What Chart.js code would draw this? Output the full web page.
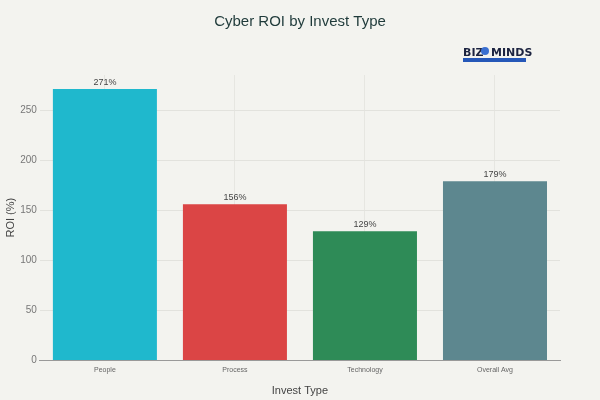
<!DOCTYPE html>
<html>
<head>
<meta charset="utf-8">
<script src="https://cdn.jsdelivr.net/npm/chart.js"></script>
<style>
  html, body { margin: 0; padding: 0; background: #f3f3ef; }
  #wrap { width: 600px; height: 400px; }
</style>
</head>
<body>
<div id="wrap"><canvas id="myChart" width="600" height="400"></canvas></div>
<script>
// chart data
const investTypes = ["People", "Process", "Technology", "Overall Avg"];
const roiValues = [271, 156, 129, 179];
const barColors = ["#1fb8cd", "#db4545", "#2e8b57", "#5d878f"];
const yTicks = [0, 50, 100, 150, 200, 250];

// title centred on the page, value labels, and the logo
const extrasPlugin = {
  id: "extras",
  afterDatasetsDraw(chart) {
    const ctx = chart.ctx;
    const meta = chart.getDatasetMeta(0);
    ctx.save();
    ctx.font = "500 15px 'Liberation Sans', Arial, sans-serif";
    ctx.fillStyle = "#1f3a3a";
    ctx.textAlign = "center";
    ctx.textBaseline = "middle";
    ctx.fillText("Cyber ROI by Invest Type", 300, 22);

    ctx.font = "9px 'Liberation Sans', Arial, sans-serif";
    ctx.fillStyle = "#444";
    ctx.textBaseline = "bottom";
    meta.data.forEach((bar, i) => {
      ctx.fillText(roiValues[i] + "%", bar.x, bar.y - 2);
    });

    // logo
    ctx.font = "bold 11px 'DejaVu Sans', sans-serif";
    ctx.fillStyle = "#1c2340";
    ctx.textBaseline = "alphabetic";
    ctx.textAlign = "left";
    ctx.fillText("BIZ", 463, 56);
    ctx.fillText("MINDS", 491, 56);
    ctx.fillStyle = "#3a6fd0";
    ctx.beginPath();
    ctx.arc(485, 51, 4, 0, Math.PI * 2);
    ctx.fill();
    ctx.fillStyle = "#2557b8";
    ctx.fillRect(463, 58, 63, 4);
    ctx.restore();
  }
};

const ctx = document.getElementById("myChart").getContext("2d");
const myChart = new Chart(ctx, {
  type: "bar",
  data: {
    labels: investTypes,
    datasets: [
      {
        label: "ROI (%)",
        data: roiValues,
        backgroundColor: barColors,
        borderWidth: 0,
        barPercentage: 0.8,
        categoryPercentage: 1.0,
      },
    ],
  },
  plugins: [extrasPlugin],
  options: {
    responsive: false,
    animation: false,
    layout: { padding: { left: 4, right: 40, top: 75, bottom: 2 } },
    plugins: {
      legend: { display: false },
      tooltip: { enabled: false },
    },
    scales: {
      x: {
        grid: { display: true, offset: false, color: "#e6e6e1", drawTicks: false },
        border: { color: "#999", width: 1 },
        ticks: { color: "#666", font: { size: 7, family: "'Liberation Sans', Arial, sans-serif" }, padding: 5 },
        title: {
          display: true,
          text: "Invest Type",
          color: "#444",
          font: { size: 11, family: "'Liberation Sans', Arial, sans-serif" },
          padding: { top: 6, bottom: 0 },
        },
      },
      y: {
        min: 0,
        max: 285,
        afterBuildTicks: (axis) => {
          axis.ticks = yTicks.map((v) => ({ value: v }));
        },
        grid: { color: "#e2e2dd", drawTicks: false },
        border: { display: false },
        ticks: { color: "#777", font: { size: 10, family: "'Liberation Sans', Arial, sans-serif" }, padding: 3 },
        title: {
          display: true,
          text: "ROI (%)",
          color: "#444",
          font: { size: 11, family: "'Liberation Sans', Arial, sans-serif" },
          padding: { top: 0, bottom: 0 },
        },
      },
    },
  },
});
</script>
</body>
</html>
